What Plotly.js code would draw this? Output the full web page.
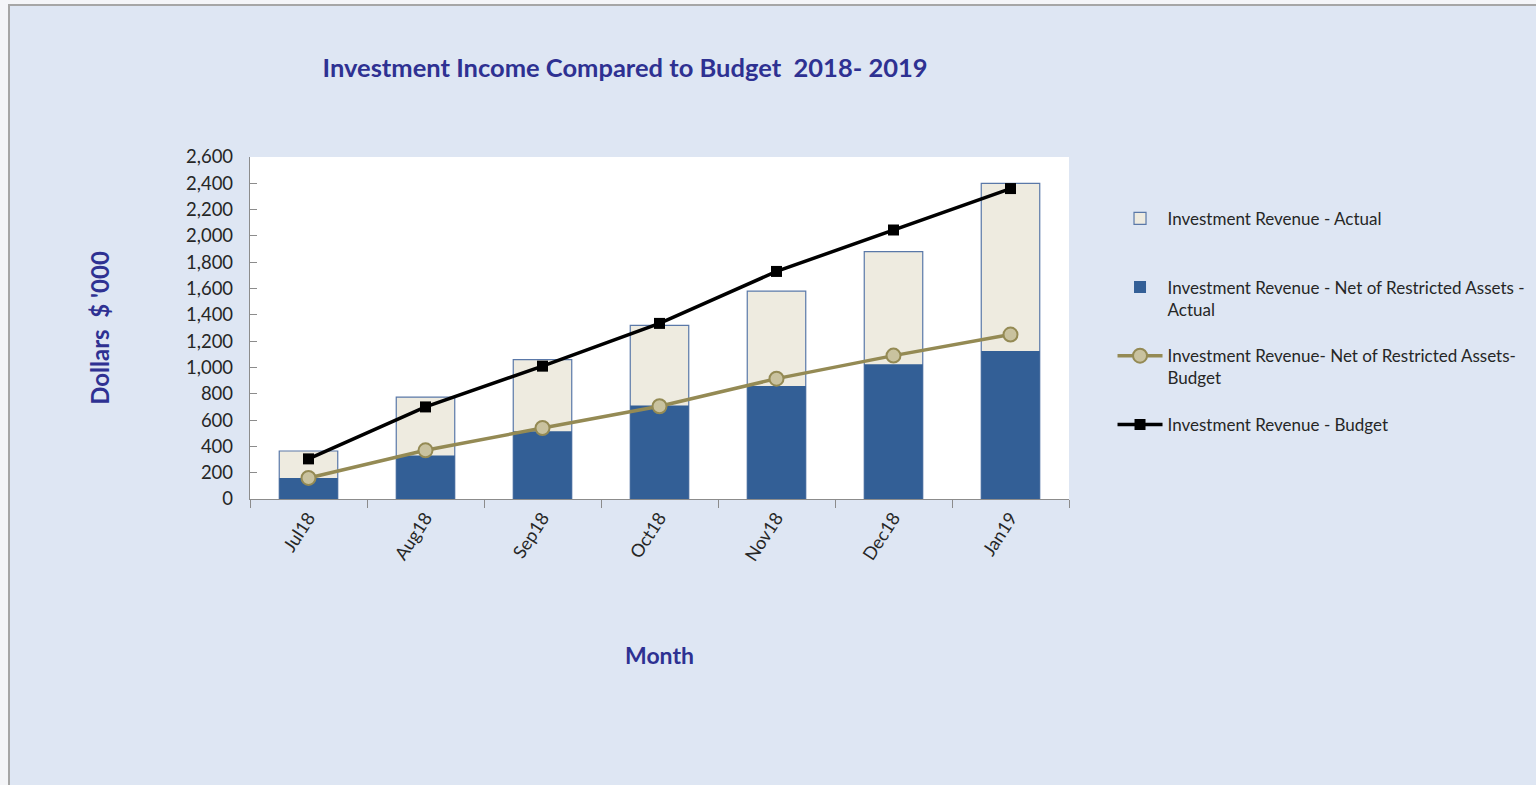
<!DOCTYPE html>
<html>
<head>
<meta charset="utf-8">
<script src="https://cdn.plot.ly/plotly-3.0.1.min.js"></script>
<style>
  html, body { margin: 0; padding: 0; background: #f4f5f8; overflow: hidden; width: 1536px; height: 785px; }
  #chart { position: absolute; left: 8px; top: 4px; width: 1530px; height: 779px;
           border-left: 2px solid #a6a6a6; border-top: 2px solid #a6a6a6; }
</style>
</head>
<body>
<div id="chart"></div>
<script>
const months = ["Jul18", "Aug18", "Sep18", "Oct18", "Nov18", "Dec18", "Jan19"];
const revenueActual = [365, 775, 1060, 1320, 1580, 1880, 2400];
const netActual = [160, 330, 515, 710, 860, 1025, 1125];
const netBudget = [160, 370, 540, 705, 915, 1090, 1250];
const revenueBudget = [305, 700, 1010, 1335, 1730, 2045, 2360];
const yTicks = [0, 200, 400, 600, 800, 1000, 1200, 1400, 1600, 1800, 2000, 2200, 2400, 2600];

const FONT = "Lato, 'Open Sans', sans-serif";
const traces = [
  { type: "bar", x: months, y: revenueActual, name: "Investment Revenue - Actual<br> ",
    legendgroup: "a", width: 0.5,
    marker: { color: "#eeebe0", line: { color: "#5a78a8", width: 1.2 } } },
  { type: "bar", x: months, y: netActual, name: "Investment Revenue - Net of Restricted Assets -<br>Actual",
    legendgroup: "b", width: 0.5,
    marker: { color: "#335f96", line: { width: 0 } } },
  { type: "scatter", mode: "lines+markers", x: months, y: netBudget,
    name: "Investment Revenue- Net of Restricted Assets-<br>Budget", legendgroup: "c",
    line: { color: "#948a54", width: 3.5 },
    marker: { symbol: "circle", size: 14, color: "#c9c29f", line: { color: "#948a54", width: 2 } } },
  { type: "scatter", mode: "lines+markers", x: months, y: revenueBudget,
    name: "Investment Revenue - Budget", legendgroup: "d",
    line: { color: "#000000", width: 3.5 },
    marker: { symbol: "square", size: 11, color: "#000000" } }
];

const layout = {
  width: 1530, height: 779,
  margin: { l: 240, r: 471, t: 151, b: 286 },
  paper_bgcolor: "#dee6f3",
  plot_bgcolor: "#ffffff",
  barmode: "overlay",
  showlegend: true,
  font: { family: FONT, color: "#262626", size: 17 },
  title: { text: "<b>Investment Income Compared to Budget  2018- 2019</b>",
           xref: "container", x: 0.402, xanchor: "center",
           yref: "container", y: 0.92, yanchor: "middle",
           font: { family: FONT, size: 25.5, color: "#2e3192" } },
  xaxis: {
    type: "category", tickson: "boundaries", ticks: "outside", ticklen: 8,
    tickcolor: "#8c8c8c", showline: true, linecolor: "#8c8c8c", linewidth: 1.2,
    showgrid: false, tickangle: -57, tickfont: { size: 18, color: "#262626" },
    title: { text: "<b>Month</b>", standoff: 84, font: { family: FONT, size: 23, color: "#2e3192" } }
  },
  yaxis: {
    range: [0, 2600], tickvals: yTicks, tickformat: ",d", ticks: "inside", ticklen: 7,
    tickcolor: "#8c8c8c", showline: true, linecolor: "#8c8c8c", linewidth: 1.2,
    ticklabelstandoff: 12,
    showgrid: false, zeroline: false, tickfont: { size: 18.5, color: "#262626" },
    title: { text: "<b>Dollars  $ '000</b>", standoff: 69, font: { family: FONT, size: 24, color: "#2e3192" } }
  },
  legend: {
    xref: "container", yref: "container",
    x: 0.7206, xanchor: "left", y: 0.75, yanchor: "top",
    bgcolor: "rgba(0,0,0,0)", itemwidth: 45, valign: "top",
    traceorder: "grouped", tracegroupgap: 21.5,
    font: { family: FONT, size: 17, color: "#262626" }
  }
};

Plotly.newPlot("chart", traces, layout, { displayModeBar: false, staticPlot: true });
</script>
</body>
</html>
